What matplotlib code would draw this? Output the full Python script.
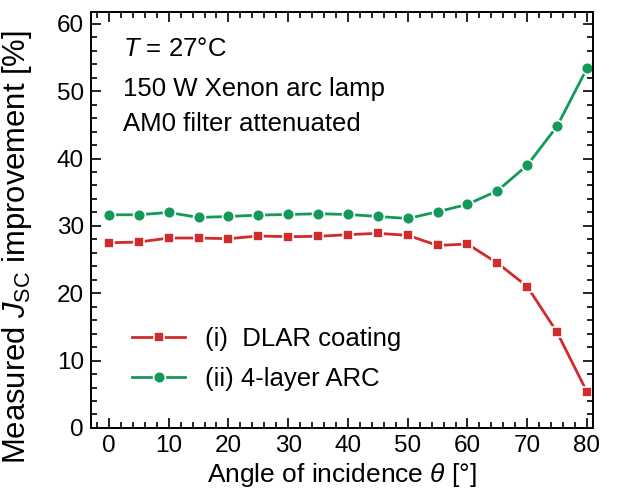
import matplotlib
matplotlib.use('Agg')
import matplotlib.pyplot as plt
from matplotlib.ticker import MultipleLocator

angles = [0, 5, 10, 15, 20, 25, 30, 35, 40, 45, 50, 55, 60, 65, 70, 75, 80]
dlar = [27.5, 27.6, 28.2, 28.2, 28.1, 28.5, 28.4, 28.45, 28.7, 28.9, 28.6,
        27.1, 27.3, 24.5, 21.0, 14.2, 5.35]
arc4 = [31.65, 31.65, 32.0, 31.25, 31.4, 31.6, 31.7, 31.8, 31.7, 31.4, 31.1,
        32.1, 33.2, 35.2, 39.0, 44.8, 53.4]
series_labels = ['(i)  DLAR coating', '(ii) 4-layer ARC']
notes = ['$T$ = 27°C', '150 W Xenon arc lamp', 'AM0 filter attenuated']

plt.rcParams['font.family'] = ['Liberation Sans', 'DejaVu Sans']
plt.rcParams['mathtext.fontset'] = 'custom'
plt.rcParams['mathtext.rm'] = 'Liberation Sans'
plt.rcParams['mathtext.it'] = 'Liberation Sans:italic'

fig = plt.figure(figsize=(6.17, 4.97), dpi=100)
ax = fig.add_axes([0.1475, 0.139, 0.8135, 0.836])

red = '#d12b2b'
green = '#13995a'
ax.plot(angles, dlar, color=red, lw=2, marker='s', ms=7.5,
        mec='white', mew=1.2, label=series_labels[0])
ax.plot(angles, arc4, color=green, lw=2, marker='o', ms=8.5,
        mec='white', mew=1.2, label=series_labels[1])

ax.set_xlim(-3, 81)
ax.set_ylim(0, 61.7)
ax.xaxis.set_major_locator(MultipleLocator(10))
ax.xaxis.set_minor_locator(MultipleLocator(2))
ax.yaxis.set_major_locator(MultipleLocator(10))
ax.yaxis.set_minor_locator(MultipleLocator(2))
ax.tick_params(which='both', direction='in', top=True, right=True, width=1.2)
ax.tick_params(which='major', length=7, labelsize=17.5, pad=5)
ax.tick_params(which='minor', length=4)
for s in ax.spines.values():
    s.set_linewidth(1.4)

ax.set_xlabel(r'Angle of incidence $\theta$ [°]', fontsize=19, labelpad=3)
ax.set_ylabel(r'Measured $J_{\mathrm{SC}}$ improvement [%]', fontsize=22.3)
ax.yaxis.set_label_coords(-0.113, 0.435)

for txt, yy in zip(notes, [0.911, 0.815, 0.731]):
    ax.text(0.064, yy, txt, transform=ax.transAxes, va='center', fontsize=18.5)

ax.legend(loc='center left', bbox_to_anchor=(0.082, 0.166), frameon=False,
          borderpad=0, borderaxespad=0, handlelength=2.05, handletextpad=0.8,
          labelspacing=0.6, fontsize=18.5)

fig.savefig('out.png', dpi=100)
